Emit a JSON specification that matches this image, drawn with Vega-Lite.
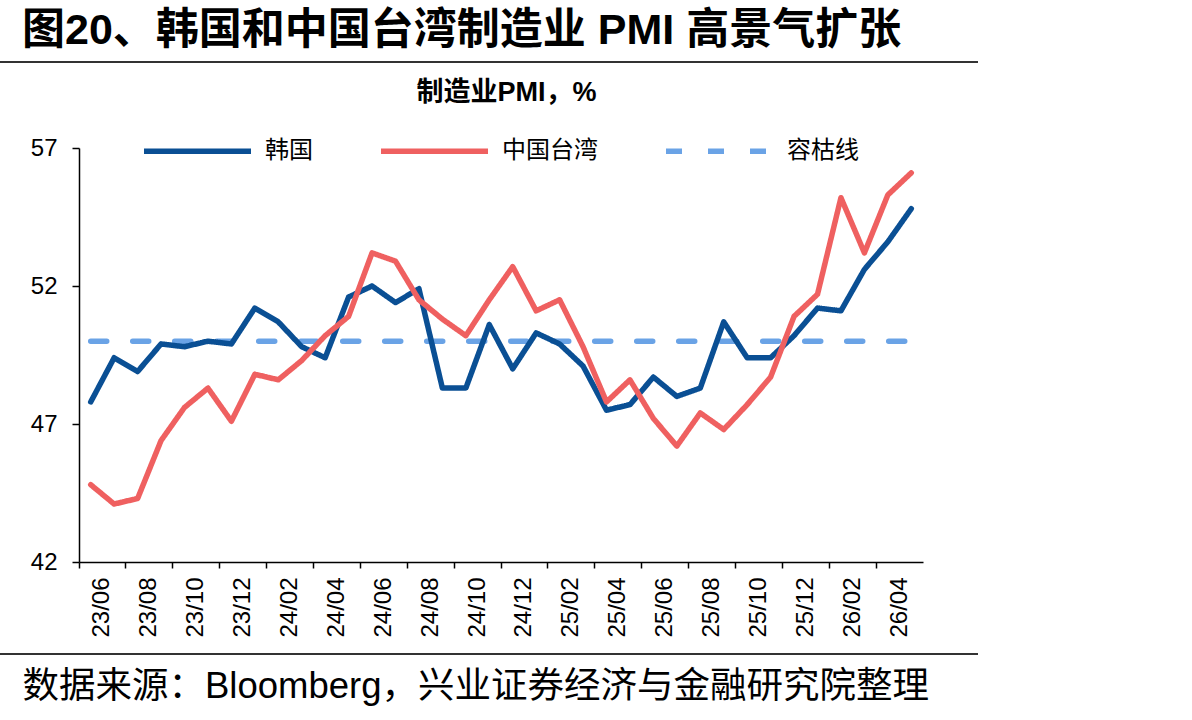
{
  "$schema": "https://vega.github.io/schema/vega-lite/v6.json",
  "width": 844,
  "height": 414,
  "autosize": {"type": "none"},
  "padding": {"left": 79, "top": 148, "right": 269, "bottom": 158},
  "background": "white",
  "title": {
    "text": "图20、韩国和中国台湾制造业 PMI 高景气扩张",
    "anchor": "start",
    "frame": "group",
    "dx": -57,
    "offset": 8,
    "fontSize": 43,
    "fontWeight": "bold",
    "font": "Liberation Sans, Noto Sans CJK SC",
    "color": "black"
  },
  "config": {
    "view": {"stroke": null},
    "font": "Liberation Sans, Noto Sans CJK SC"
  },
  "layer": [
    {
      "data": {
        "values": [
          {"m": "23/06", "韩国": 47.8, "中国台湾": 44.8, "容枯线": 50},
          {"m": "23/07", "韩国": 49.4, "中国台湾": 44.1, "容枯线": 50},
          {"m": "23/08", "韩国": 48.9, "中国台湾": 44.3, "容枯线": 50},
          {"m": "23/09", "韩国": 49.9, "中国台湾": 46.4, "容枯线": 50},
          {"m": "23/10", "韩国": 49.8, "中国台湾": 47.6, "容枯线": 50},
          {"m": "23/11", "韩国": 50.0, "中国台湾": 48.3, "容枯线": 50},
          {"m": "23/12", "韩国": 49.9, "中国台湾": 47.1, "容枯线": 50},
          {"m": "24/01", "韩国": 51.2, "中国台湾": 48.8, "容枯线": 50},
          {"m": "24/02", "韩国": 50.7, "中国台湾": 48.6, "容枯线": 50},
          {"m": "24/03", "韩国": 49.8, "中国台湾": 49.3, "容枯线": 50},
          {"m": "24/04", "韩国": 49.4, "中国台湾": 50.2, "容枯线": 50},
          {"m": "24/05", "韩国": 51.6, "中国台湾": 50.9, "容枯线": 50},
          {"m": "24/06", "韩国": 52.0, "中国台湾": 53.2, "容枯线": 50},
          {"m": "24/07", "韩国": 51.4, "中国台湾": 52.9, "容枯线": 50},
          {"m": "24/08", "韩国": 51.9, "中国台湾": 51.5, "容枯线": 50},
          {"m": "24/09", "韩国": 48.3, "中国台湾": 50.8, "容枯线": 50},
          {"m": "24/10", "韩国": 48.3, "中国台湾": 50.2, "容枯线": 50},
          {"m": "24/11", "韩国": 50.6, "中国台湾": 51.5, "容枯线": 50},
          {"m": "24/12", "韩国": 49.0, "中国台湾": 52.7, "容枯线": 50},
          {"m": "25/01", "韩国": 50.3, "中国台湾": 51.1, "容枯线": 50},
          {"m": "25/02", "韩国": 49.9, "中国台湾": 51.5, "容枯线": 50},
          {"m": "25/03", "韩国": 49.1, "中国台湾": 49.8, "容枯线": 50},
          {"m": "25/04", "韩国": 47.5, "中国台湾": 47.8, "容枯线": 50},
          {"m": "25/05", "韩国": 47.7, "中国台湾": 48.6, "容枯线": 50},
          {"m": "25/06", "韩国": 48.7, "中国台湾": 47.2, "容枯线": 50},
          {"m": "25/07", "韩国": 48.0, "中国台湾": 46.2, "容枯线": 50},
          {"m": "25/08", "韩国": 48.3, "中国台湾": 47.4, "容枯线": 50},
          {"m": "25/09", "韩国": 50.7, "中国台湾": 46.8, "容枯线": 50},
          {"m": "25/10", "韩国": 49.4, "中国台湾": 47.7, "容枯线": 50},
          {"m": "25/11", "韩国": 49.4, "中国台湾": 48.7, "容枯线": 50},
          {"m": "25/12", "韩国": 50.2, "中国台湾": 50.9, "容枯线": 50},
          {"m": "26/01", "韩国": 51.2, "中国台湾": 51.7, "容枯线": 50},
          {"m": "26/02", "韩国": 51.1, "中国台湾": 55.2, "容枯线": 50},
          {"m": "26/03", "韩国": 52.6, "中国台湾": 53.2, "容枯线": 50},
          {"m": "26/04", "韩国": 53.6, "中国台湾": 55.3, "容枯线": 50},
          {"m": "26/05", "韩国": 54.8, "中国台湾": 56.1, "容枯线": 50}
        ]
      },
      "transform": [{"fold": ["容枯线", "韩国", "中国台湾"], "as": ["s", "v"]}],
      "mark": {"type": "line", "strokeWidth": 5.5, "strokeCap": "round", "strokeJoin": "round"},
      "encoding": {
        "x": {
          "field": "m",
          "type": "ordinal",
          "sort": null,
          "bandPosition": 0.5,
          "scale": {"type": "band", "paddingInner": 0, "paddingOuter": 0},
          "axis": {
            "values": ["23/06", "23/08", "23/10", "23/12", "24/02", "24/04", "24/06", "24/08", "24/10", "24/12", "25/02", "25/04", "25/06", "25/08", "25/10", "25/12", "26/02", "26/04"],
            "bandPosition": 0,
            "labelOffset": 11.72,
            "labelAngle": -90,
            "labelFontSize": 24,
            "labelFont": "Liberation Sans",
            "labelColor": "black",
            "labelPadding": 9,
            "labelFlush": false,
            "labelOverlap": false,
            "tickSize": 6,
            "tickColor": "black",
            "tickWidth": 1.5,
            "domainColor": "black",
            "domainWidth": 1.5,
            "grid": false,
            "title": "数据来源：Bloomberg，兴业证券经济与金融研究院整理",
            "titleX": -57,
            "titleY": 124,
            "titleAlign": "left",
            "titleAnchor": "start",
            "titleBaseline": "middle",
            "titleAngle": 0,
            "titleFontSize": 36.5,
            "titleFontWeight": "normal",
            "titleColor": "black"
          }
        },
        "y": {
          "field": "v",
          "type": "quantitative",
          "scale": {"domain": [42, 57], "zero": false, "nice": false},
          "axis": {
            "values": [42, 47, 52, 57],
            "grid": false,
            "labelFontSize": 24,
            "labelFont": "Liberation Sans",
            "labelColor": "black",
            "labelPadding": 15,
            "tickSize": 7,
            "tickColor": "black",
            "tickWidth": 1.5,
            "domainColor": "black",
            "domainWidth": 1.5,
            "title": "制造业PMI，%",
            "titleAngle": 0,
            "titleX": 427,
            "titleY": -56,
            "titleAlign": "center",
            "titleBaseline": "middle",
            "titleFontSize": 27,
            "titleFontWeight": "bold",
            "titleColor": "black"
          }
        },
        "color": {
          "field": "s",
          "type": "nominal",
          "scale": {"domain": ["韩国", "中国台湾", "容枯线"], "range": ["#0a4f94", "#ef6060", "#6aa3e6"]},
          "legend": {
            "title": null,
            "orient": "none",
            "legendX": 62,
            "legendY": -53.5,
            "direction": "horizontal",
            "columns": 3,
            "columnPadding": 57,
            "padding": 0,
            "symbolType": "stroke",
            "symbolSize": 11449,
            "symbolStrokeWidth": 5.5,
            "labelFontSize": 24,
            "labelFont": "Noto Sans CJK SC",
            "labelColor": "black",
            "labelOffset": 11,
            "labelLimit": 300
          }
        },
        "strokeDash": {
          "field": "s",
          "type": "nominal",
          "scale": {"domain": ["韩国", "中国台湾", "容枯线"], "range": [[1, 0], [1, 0], [16, 26]]},
          "legend": {
            "title": null,
            "orient": "none",
            "legendX": 62,
            "legendY": -53.5,
            "direction": "horizontal",
            "columns": 3,
            "columnPadding": 57,
            "padding": 0,
            "symbolType": "stroke",
            "symbolSize": 11449,
            "symbolStrokeWidth": 5.5,
            "labelFontSize": 24,
            "labelFont": "Noto Sans CJK SC",
            "labelColor": "black",
            "labelOffset": 11,
            "labelLimit": 300
          }
        }
      }
    },
    {
      "data": {"values": [{}]},
      "mark": {"type": "rule", "color": "#333333", "strokeWidth": 2},
      "encoding": {
        "y": {"datum": 60.12, "type": "quantitative", "scale": {"domain": [42, 57], "zero": false, "nice": false}},
        "x": {"value": -79},
        "x2": {"value": 899}
      }
    },
    {
      "data": {"values": [{}]},
      "mark": {"type": "rule", "color": "#333333", "strokeWidth": 2},
      "encoding": {
        "y": {"datum": 38.67, "type": "quantitative", "scale": {"domain": [42, 57], "zero": false, "nice": false}},
        "x": {"value": -79},
        "x2": {"value": 899}
      }
    }
  ]
}
